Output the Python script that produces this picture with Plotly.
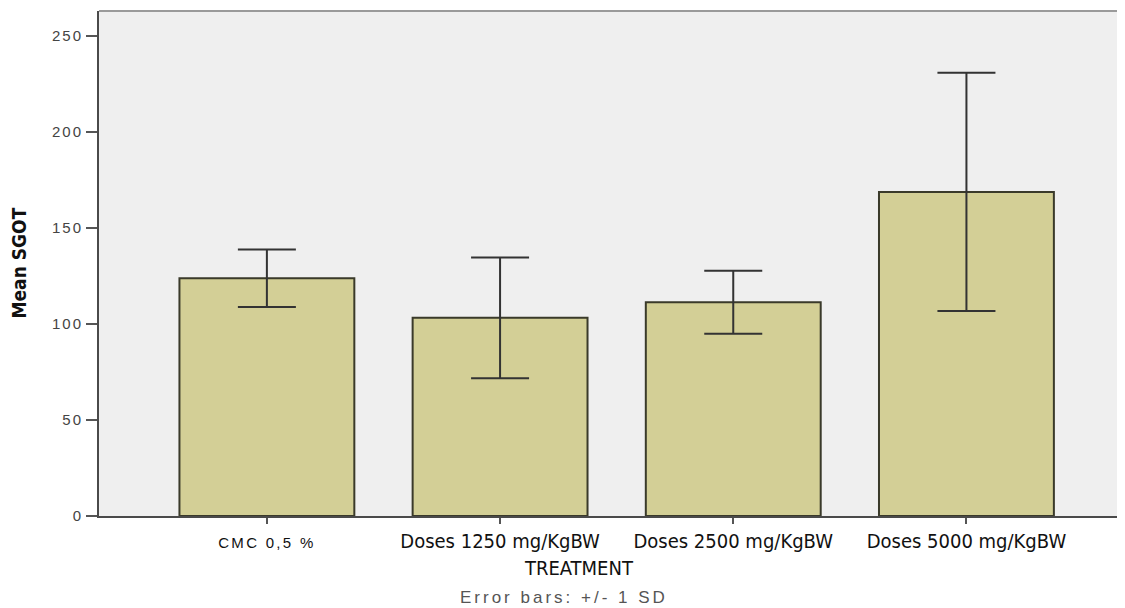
import plotly.graph_objects as go

categories = ["CMC 0,5 %", "Doses 1250 mg/KgBW", "Doses 2500 mg/KgBW", "Doses 5000 mg/KgBW"]
mean_sgot = [123.8, 103.2, 111.3, 168.8]
sd_sgot = [15.0, 31.4, 16.4, 62.0]
y_ticks = [0, 50, 100, 150, 200, 250]

# page has an 8px body margin, so the figure is offset by 8px
W, H = 1117, 600
L, R, T, B = 91, 0, 3, 92

COND = "DejaVu Sans Condensed, Liberation Sans, Arial, sans-serif"

def spaced(t, sp=2.5):
    return f'<span style="letter-spacing:{sp}px">{t}</span>'

tick_text = [
    f'<span style="font-family:Liberation Sans, Arial; font-size:15px; letter-spacing:2.3px">{categories[0]}</span>'
] + categories[1:]

fig = go.Figure()
fig.add_trace(go.Bar(
    x=list(range(len(categories))),
    y=mean_sgot,
    width=0.75,
    marker=dict(color="#d3cf96", line=dict(color="#3a3a2a", width=2)),
    error_y=dict(type="data", array=sd_sgot, visible=True, color="#333333", thickness=2, width=29),
    showlegend=False,
))

fig.update_layout(
    width=W, height=H,
    margin=dict(l=L, r=R, t=T, b=B),
    paper_bgcolor="white",
    plot_bgcolor="#efefef",
    xaxis=dict(
        range=[-0.72, 3.68],
        tickvals=list(range(len(categories))),
        ticktext=tick_text,
        ticks="outside", ticklen=6, tickwidth=2, tickcolor="#555",
        showline=True, linecolor="#4a4a4a", linewidth=2,
        showgrid=False, zeroline=False,
        tickfont=dict(family=COND, size=20, color="#111"),
    ),
    yaxis=dict(
        range=[0, 263],
        tickvals=y_ticks,
        ticktext=[spaced(str(v), 2) for v in y_ticks],
        ticks="outside", ticklen=11, tickwidth=2, tickcolor="#555",
        showline=True, linecolor="#4a4a4a", linewidth=2,
        showgrid=False, zeroline=False,
        tickfont=dict(family="Liberation Sans, Arial, sans-serif", size=15, color="#444"),
    ),
    shapes=[dict(type="line", xref="paper", yref="paper", x0=0, x1=1, y0=1, y1=1,
                 line=dict(color="#9a9a9a", width=2))],
    annotations=[
        dict(text="<b>Mean SGOT</b>", xref="paper", yref="paper",
             x=(18 - 99) / 1026, y=0.5, textangle=-90, showarrow=False,
             xanchor="center", yanchor="middle",
             font=dict(family=COND, size=19, color="#111")),
        dict(text="TREATMENT", xref="paper", yref="paper",
             x=(579 - 99) / 1026, y=(516 - 568) / 505, showarrow=False,
             xanchor="center", yanchor="middle",
             font=dict(family=COND, size=20, color="#111")),
        dict(text=spaced("Error bars: +/- 1 SD", 3), xref="paper", yref="paper",
             x=(564 - 99) / 1026, y=(516 - 597) / 505, showarrow=False,
             xanchor="center", yanchor="middle",
             font=dict(family="Liberation Sans, Arial, sans-serif", size=17, color="#555")),
    ],
)

fig.write_html("out.html")
